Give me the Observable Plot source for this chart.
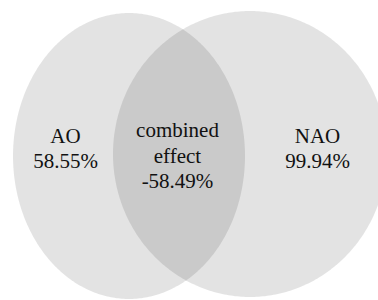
<!DOCTYPE html>
<html>
<head>
<meta charset="utf-8">
<script src="https://cdn.jsdelivr.net/npm/d3@7"></script>
<script src="https://cdn.jsdelivr.net/npm/@observablehq/plot@0.6"></script>
<style>
  html, body { margin: 0; padding: 0; background: #fff; font-family: "Liberation Serif", serif; }
</style>
</head>
<body>
<div id="chart"></div>
<script>
// ---- Data ----
const sets = ["AO", "NAO"];
const setShares = ["58.55%", "99.94%"];
const overlapName = ["combined", "effect"];
const overlapShare = "-58.49%";

// ---- Layout (diagram geometry, in pixel-like plot units) ----
const ellipseCx = [129, 250];
const ellipseCy = [156, 154];
const ellipseRx = [116, 137];
const ellipseRy = [143, 143];
const labelX = [65, 317];
const labelY = [147, 147];
const overlapX = 177;
const overlapY = 154;

// Build ellipse outlines as upper/lower bands for an area mark
const shapes = [];
sets.forEach((s, i) => {
  const n = 200;
  for (let k = 0; k <= n; k++) {
    const t = Math.PI - (Math.PI * k) / n;
    const x = ellipseCx[i] + ellipseRx[i] * Math.cos(t);
    const h = ellipseRy[i] * Math.sin(t);
    shapes.push({set: s, x, y1: ellipseCy[i] - h, y2: ellipseCy[i] + h});
  }
});

const labels = sets.map((s, i) => ({text: s + "\n" + setShares[i], x: labelX[i], y: labelY[i]}));
labels.push({text: overlapName.join("\n") + "\n" + overlapShare, x: overlapX, y: overlapY});

const chart = Plot.plot({
  width: 378,
  height: 300,
  margin: 0,
  style: {fontFamily: "Liberation Serif"},
  x: {domain: [0, 378], range: [0, 378], axis: null},
  y: {domain: [0, 300], range: [0, 300], axis: null},
  marks: [
    Plot.areaY(shapes, {x: "x", y1: "y1", y2: "y2", z: "set", fill: "#000", fillOpacity: 0.11, curve: "linear"}),
    Plot.text(labels, {
      x: "x", y: "y", text: "text",
      fontFamily: "Liberation Serif",
      fontSize: 21,
      lineHeight: 1.2,
      lineAnchor: "middle",
      textAnchor: "middle",
      fill: "#111"
    })
  ]
});
chart.setAttribute("font-family", "Liberation Serif");
chart.querySelectorAll("text, tspan").forEach(el => {
  el.setAttribute("font-family", "Liberation Serif");
  el.style.fontFamily = "'Liberation Serif', serif";
});
document.getElementById("chart").appendChild(chart);
</script>
</body>
</html>
